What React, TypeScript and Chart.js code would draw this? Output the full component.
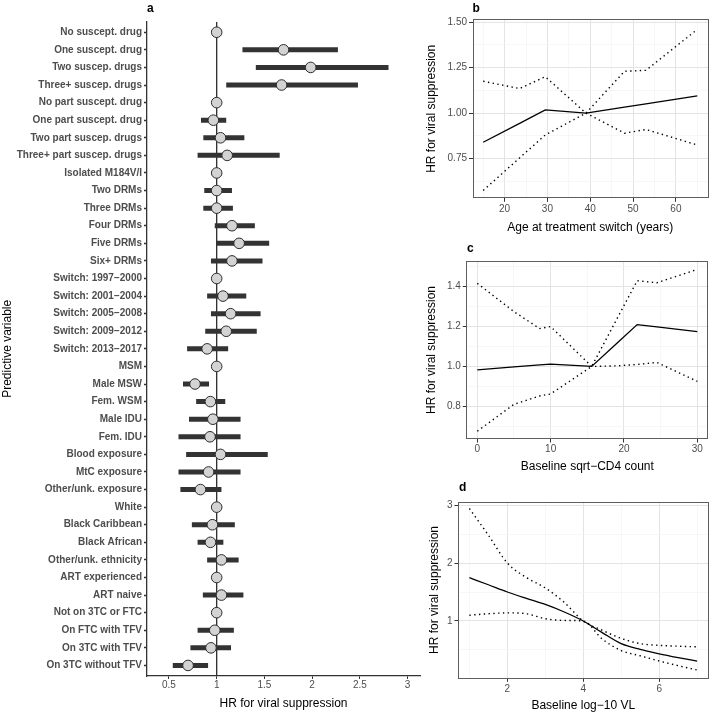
import React, { useEffect, useRef } from 'react';
import { Chart, registerables } from 'chart.js';

Chart.register(...registerables);

const FONT = '"Liberation Sans", Arial, Helvetica, sans-serif';
Chart.defaults.font.family = FONT;

// ---------- Panel a : forest plot ----------
const variables = [
  'No suscept. drug', 'One suscept. drug', 'Two suscep. drugs', 'Three+ suscep. drugs',
  'No part suscept. drug', 'One part suscept. drug', 'Two part suscep. drugs', 'Three+ part suscep. drugs',
  'Isolated M184V/I', 'Two DRMs', 'Three DRMs', 'Four DRMs', 'Five DRMs', 'Six+ DRMs',
  'Switch: 1997\u22122000', 'Switch: 2001\u22122004', 'Switch: 2005\u22122008', 'Switch: 2009\u22122012', 'Switch: 2013\u22122017',
  'MSM', 'Male MSW', 'Fem. WSM', 'Male IDU', 'Fem. IDU', 'Blood exposure', 'MtC exposure', 'Other/unk. exposure',
  'White', 'Black Caribbean', 'Black African', 'Other/unk. ethnicity',
  'ART experienced', 'ART naive',
  'Not on 3TC or FTC', 'On FTC with TFV', 'On 3TC with TFV', 'On 3TC without TFV',
];
const hr = [
  1, 1.70, 1.985, 1.68,
  1, 0.965, 1.04, 1.11,
  1, 1.0, 1.0, 1.16, 1.235, 1.16,
  1, 1.066, 1.146, 1.10, 0.90,
  1, 0.773, 0.934, 0.96, 0.93, 1.04, 0.915, 0.83,
  1, 0.955, 0.935, 1.05,
  1, 1.05,
  1, 0.98, 0.94, 0.70,
];
const ciLow = [
  null, 1.27, 1.41, 1.10,
  null, 0.836, 0.86, 0.80,
  null, 0.87, 0.86, 0.98, 1.0, 0.94,
  null, 0.90, 0.94, 0.88, 0.69,
  null, 0.647, 0.785, 0.71, 0.60, 0.68, 0.60, 0.62,
  null, 0.74, 0.80, 0.90,
  null, 0.855,
  null, 0.80, 0.725, 0.54,
];
const ciHigh = [
  null, 2.27, 2.80, 2.48,
  null, 1.10, 1.29, 1.66,
  null, 1.16, 1.17, 1.40, 1.55, 1.48,
  null, 1.31, 1.46, 1.42, 1.12,
  null, 0.92, 1.09, 1.25, 1.25, 1.535, 1.25, 1.05,
  null, 1.19, 1.07, 1.23,
  null, 1.28,
  null, 1.18, 1.15, 0.91,
];
const hrTicks = [0.5, 1, 1.5, 2, 2.5, 3];
const hrTickLabels = ['0.5', '1', '1.5', '2', '2.5', '3'];

// ---------- Panel b : age ----------
const ageX = [15, 23.5, 29.5, 39, 48, 53, 65];
const ageHR = [0.84, 0.944, 1.018, 1.0, 1.033, 1.051, 1.095];
const ageUpper = [1.175, 1.135, 1.2, 1.0, 0.89, 0.91, 0.825];
const ageLower = [0.575, 0.754, 0.88, 1.0, 1.23, 1.235, 1.46];
const ageTicks = [20, 30, 40, 50, 60];
const ageMinorTicks = [15, 25, 35, 45, 55, 65];
const ageHrTicks = [0.75, 1.0, 1.25, 1.5];
const ageHrMinorTicks = [0.625, 0.875, 1.125, 1.375];

// ---------- Panel c : CD4 ----------
const cd4X = [0, 5, 8.5, 10, 15.6, 19, 21.8, 24.5, 30];
const cd4HR = [0.983, 0.998, 1.008, 1.012, 1.0, 1.115, 1.21, 1.198, 1.175];
const cd4Upper = [1.417, 1.275, 1.19, 1.2, 1.0, 1.003, 1.01, 1.02, 0.925];
const cd4Lower = [0.675, 0.81, 0.852, 0.862, 1.0, 1.236, 1.43, 1.42, 1.487];
const cd4Ticks = [0, 10, 20, 30];
const cd4MinorTicks = [5, 15, 25];
const cd4HrTicks = [0.8, 1.0, 1.2, 1.4];
const cd4HrMinorTicks = [0.7, 0.9, 1.1, 1.3, 1.5];

// ---------- Panel d : viral load ----------
const vlX = [1, 1.5, 2, 2.5, 3, 3.5, 4, 4.5, 5, 5.5, 6, 6.5, 7];
const vlHR = [1.747, 1.625, 1.5, 1.39, 1.285, 1.155, 1.0, 0.8, 0.61, 0.51, 0.435, 0.37, 0.31];
const vlUpper = [2.94, 2.48, 2.0, 1.75, 1.57, 1.32, 1.0, 0.84, 0.7, 0.61, 0.58, 0.565, 0.555];
const vlLower = [1.1, 1.125, 1.14, 1.125, 1.04, 1.01, 1.0, 0.69, 0.49, 0.4, 0.31, 0.23, 0.155];
const vlTicks = [2, 4, 6];
const vlMinorTicks = [1, 3, 5, 7];
const vlHrTicks = [1, 2, 3];
const vlHrMinorTicks = [0.5, 1.5, 2.5];

const TICK_COLOR = '#4d4d4d';

const panelBorder = {
  id: 'panelBorder',
  afterDatasetsDraw(chart: any) {
    const { ctx, chartArea } = chart;
    ctx.save();
    ctx.strokeStyle = '#5e5e5e';
    ctx.lineWidth = 1;
    ctx.strokeRect(
      Math.round(chartArea.left) + 0.5,
      Math.round(chartArea.top) + 0.5,
      Math.round(chartArea.right - chartArea.left) - 1,
      Math.round(chartArea.bottom - chartArea.top) - 1,
    );
    ctx.restore();
  },
};

const fixWidth = (w: number) => (s: any) => {
  s.width = w;
  s.paddingLeft = 0; s.paddingRight = 0; s.paddingTop = 0; s.paddingBottom = 0;
};
const fixHeight = (h: number) => (s: any) => {
  s.height = h;
  s.paddingLeft = 0; s.paddingRight = 0; s.paddingTop = 0; s.paddingBottom = 0;
};

function forestConfig(): any {
  const yMin = -0.6;
  const yMax = variables.length - 1 + 0.6;
  const points = variables.map((_, i) => ({ x: hr[i], y: i }));
  const ci: any[] = [];
  variables.forEach((_, i) => {
    if (ciLow[i] == null) return;
    ci.push({ x: ciLow[i], y: i }, { x: ciHigh[i], y: i }, { x: ciHigh[i], y: null });
  });
  return {
    type: 'line',
    data: {
      datasets: [
        {
          data: points, showLine: false, pointRadius: 5.3, pointBorderWidth: 1,
          pointBorderColor: '#2b2b2b', pointBackgroundColor: '#d3d3d3', clip: false,
        },
        {
          data: ci, borderColor: '#333333', borderWidth: 5, borderCapStyle: 'butt',
          pointRadius: 0, spanGaps: false, tension: 0,
        },
        {
          data: [{ x: 1, y: yMin }, { x: 1, y: yMax }], borderColor: '#2b2b2b', borderWidth: 1.3,
          pointRadius: 0,
        },
      ],
    },
    options: {
      animation: false, responsive: false, events: [],
      layout: { autoPadding: false, padding: { left: 0, top: 21.7, right: 1, bottom: 0 } },
      plugins: { legend: { display: false }, tooltip: { enabled: false } },
      scales: {
        x: {
          type: 'linear', min: 0.27, max: 3.13,
          afterBuildTicks: (s: any) => { s.ticks = hrTicks.map((v) => ({ value: v })); },
          afterFit: fixHeight(38),
          ticks: {
            autoSkip: false, maxRotation: 0, padding: 0, color: TICK_COLOR, font: { size: 10 },
            callback: (v: number) => hrTickLabels[hrTicks.indexOf(v)] ?? '',
          },
          grid: { display: true, drawOnChartArea: false, drawTicks: true, tickLength: 3, tickColor: '#333', tickWidth: 1 },
          border: { display: true, color: '#333', width: 1.3 },
          title: { display: true, text: 'HR for viral suppression', color: '#000', font: { size: 12 }, padding: { top: 0, bottom: 3.5 } },
        },
        y: {
          type: 'linear', min: yMin, max: yMax, reverse: true,
          afterBuildTicks: (s: any) => { s.ticks = variables.map((_, i) => ({ value: i })); },
          afterFit: fixWidth(147),
          ticks: {
            autoSkip: false, padding: 2, color: TICK_COLOR, font: { size: 10, weight: 'bold' },
            callback: (v: number) => variables[v] ?? '',
          },
          grid: { display: true, drawOnChartArea: false, drawTicks: true, tickLength: 3, tickColor: '#333', tickWidth: 1.3 },
          border: { display: true, color: '#333', width: 1.3 },
          title: { display: true, text: 'Predictive variable', color: '#000', font: { size: 12 }, padding: { top: 0, bottom: 0 } },
        },
      },
    },
  };
}

type SmoothSpec = {
  x: number[]; hr: number[]; upper: number[]; lower: number[];
  xMin: number; xMax: number; yMin: number; yMax: number;
  xMajor: number[]; xMinor: number[]; yMajor: number[]; yMinor: number[];
  yFmt: (v: number) => string; xTitle: string;
  yAxisW: number; xAxisH: number; padTop: number; padRight: number;
  xTitlePad: number; yTitlePad: number; smooth: boolean;
};

function scaleTicks(major: number[], minor: number[]) {
  return (s: any) => {
    s.ticks = [...major, ...minor].sort((a, b) => a - b).map((v) => ({ value: v }));
  };
}
const isIn = (arr: number[], v: number) => arr.some((m) => Math.abs(m - v) < 1e-9);

function gridOpts(major: number[]) {
  return {
    display: true, drawOnChartArea: true, drawTicks: true, tickLength: 3.5,
    color: (c: any) => (c.tick && isIn(major, c.tick.value) ? '#e4e4e4' : '#f3f3f3'),
    lineWidth: (c: any) => (c.tick && isIn(major, c.tick.value) ? 1 : 0.7),
    tickColor: (c: any) => (c.tick && isIn(major, c.tick.value) ? '#333' : 'rgba(0,0,0,0)'),
    tickWidth: 1,
  };
}

function smoothConfig(p: SmoothSpec): any {
  const mk = (vals: number[]) => p.x.map((x, i) => ({ x, y: vals[i] }));
  const common = {
    pointRadius: 0, borderColor: '#000', fill: false,
    tension: 0, cubicInterpolationMode: p.smooth ? 'monotone' : 'default',
  };
  return {
    type: 'line',
    data: {
      datasets: [
        { ...common, data: mk(p.hr), borderWidth: 1.3 },
        { ...common, data: mk(p.upper), borderWidth: 1.4, borderDash: [1.4, 3.4], borderCapStyle: 'butt' },
        { ...common, data: mk(p.lower), borderWidth: 1.4, borderDash: [1.4, 3.4], borderCapStyle: 'butt' },
      ],
    },
    options: {
      animation: false, responsive: false, events: [],
      layout: { autoPadding: false, padding: { left: 0, top: p.padTop, right: p.padRight, bottom: 0 } },
      plugins: { legend: { display: false }, tooltip: { enabled: false } },
      scales: {
        x: {
          type: 'linear', min: p.xMin, max: p.xMax,
          afterBuildTicks: scaleTicks(p.xMajor, p.xMinor),
          afterFit: fixHeight(p.xAxisH),
          ticks: {
            autoSkip: false, maxRotation: 0, padding: 1, color: TICK_COLOR, font: { size: 10 },
            callback: (v: number) => (isIn(p.xMajor, v) ? String(v) : ''),
          },
          grid: gridOpts(p.xMajor),
          border: { display: false },
          title: { display: true, text: p.xTitle, color: '#000', font: { size: 12 }, padding: { top: 0, bottom: p.xTitlePad } },
        },
        y: {
          type: 'linear', min: p.yMin, max: p.yMax,
          afterBuildTicks: scaleTicks(p.yMajor, p.yMinor),
          afterFit: fixWidth(p.yAxisW),
          ticks: {
            autoSkip: false, padding: 2, color: TICK_COLOR, font: { size: 10 },
            callback: (v: number) => (isIn(p.yMajor, v) ? p.yFmt(v) : ''),
          },
          grid: gridOpts(p.yMajor),
          border: { display: false },
          title: { display: true, text: 'HR for viral suppression', color: '#000', font: { size: 12 }, padding: { top: p.yTitlePad, bottom: 0 } },
        },
      },
    },
    plugins: [panelBorder],
  };
}

function ChartCanvas({ config, left, top, width, height }: any) {
  const ref = useRef<HTMLCanvasElement | null>(null);
  useEffect(() => {
    if (!ref.current) return;
    const chart = new Chart(ref.current, config());
    return () => chart.destroy();
  }, []);
  return (
    <canvas
      ref={ref}
      width={width}
      height={height}
      style={{ position: 'absolute', left, top, width, height }}
    />
  );
}

const letterStyle = (left: number, centerY: number): React.CSSProperties => ({
  position: 'absolute', left, top: centerY - 7, height: 14, lineHeight: '14px',
  fontFamily: FONT, fontWeight: 'bold', fontSize: 12, color: '#000',
});

export default function App() {
  return (
    <div style={{ position: 'absolute', left: 0, top: 0, width: 709, height: 714, background: '#fff', overflow: 'hidden' }}>
      <ChartCanvas config={forestConfig} left={0} top={0} width={421} height={714} />
      <ChartCanvas
        left={420} top={0} width={289} height={240}
        config={() => smoothConfig({
          x: ageX, hr: ageHR, upper: ageUpper, lower: ageLower,
          xMin: 12.5, xMax: 67.5, yMin: 0.532, yMax: 1.515,
          xMajor: ageTicks, xMinor: ageMinorTicks, yMajor: ageHrTicks, yMinor: ageHrMinorTicks,
          yFmt: (v) => v.toFixed(2), xTitle: 'Age at treatment switch (years)',
          yAxisW: 52.5, xAxisH: 41.7, padTop: 19.4, padRight: 1,
          xTitlePad: 5.5, yTitlePad: 4.5, smooth: false,
        })}
      />
      <ChartCanvas
        left={420} top={240} width={289} height={240}
        config={() => smoothConfig({
          x: cd4X, hr: cd4HR, upper: cd4Upper, lower: cd4Lower,
          xMin: -1.5, xMax: 31.5, yMin: 0.636, yMax: 1.529,
          xMajor: cd4Ticks, xMinor: cd4MinorTicks, yMajor: cd4HrTicks, yMinor: cd4HrMinorTicks,
          yFmt: (v) => v.toFixed(1), xTitle: 'Baseline sqrt\u2212CD4 count',
          yAxisW: 46.3, xAxisH: 41, padTop: 21, padRight: 0.7,
          xTitlePad: 6.1, yTitlePad: 4.5, smooth: false,
        })}
      />
      <ChartCanvas
        left={420} top={480} width={289} height={234}
        config={() => smoothConfig({
          x: vlX, hr: vlHR, upper: vlUpper, lower: vlLower,
          xMin: 0.7, xMax: 7.3, yMin: 0.012, yMax: 3.057,
          xMajor: vlTicks, xMinor: vlMinorTicks, yMajor: vlHrTicks, yMinor: vlHrMinorTicks,
          yFmt: (v) => String(v), xTitle: 'Baseline log\u221210 VL',
          yAxisW: 38, xAxisH: 35.7, padTop: 21.7, padRight: 0.5,
          xTitlePad: 1.1, yTitlePad: 7.8, smooth: true,
        })}
      />
      <div style={letterStyle(147, 8.3)}>a</div>
      <div style={letterStyle(472.5, 8.3)}>b</div>
      <div style={letterStyle(467, 248.3)}>c</div>
      <div style={letterStyle(459, 487.3)}>d</div>
    </div>
  );
}
